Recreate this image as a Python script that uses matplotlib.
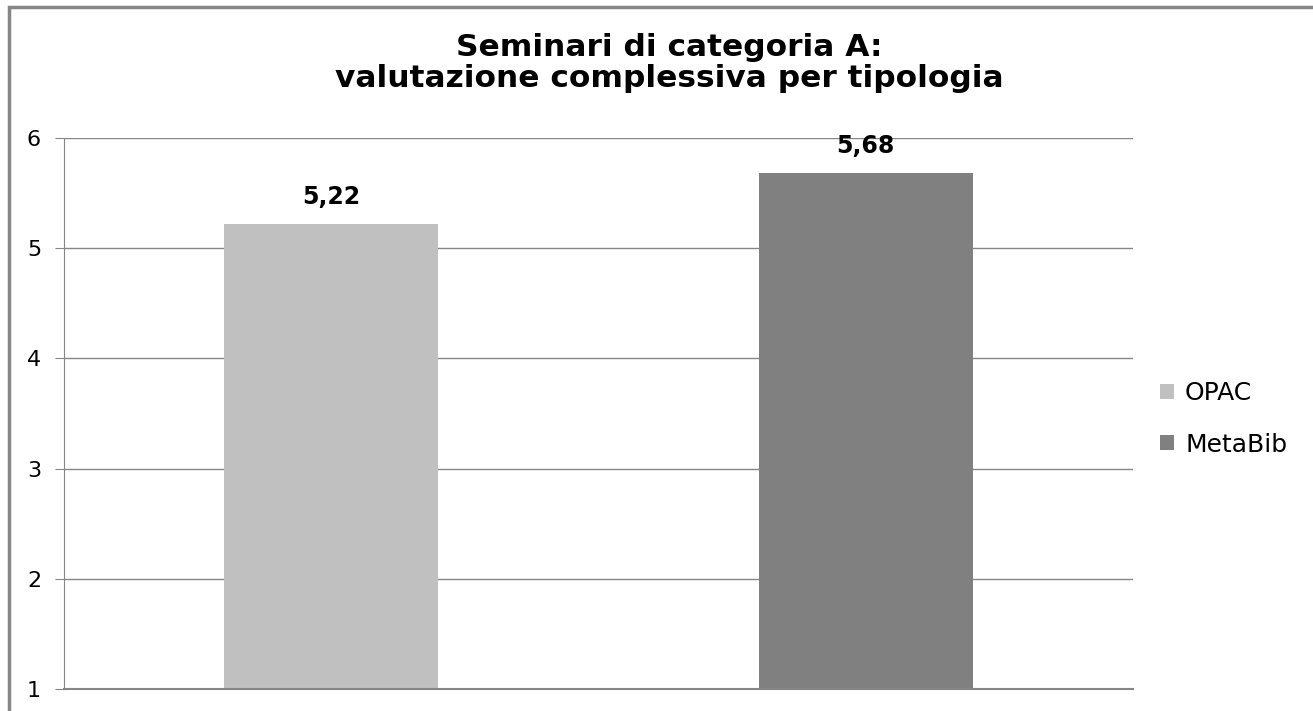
import matplotlib.pyplot as plt
from matplotlib.patches import Rectangle

categories = ["OPAC", "MetaBib"]
values = [5.22, 5.68]
labels = ["5,22", "5,68"]
colors = ["#c0c0c0", "#808080"]
yticks = [1, 2, 3, 4, 5, 6]

W, H = 1313, 711
fig = plt.figure(figsize=(W / 100, H / 100), dpi=100)
fig.patch.set_facecolor("white")

# outer chart border (cropped on right/bottom)
fig.add_artist(Rectangle((9 / W, -0.05), 1.1, (H - 7) / H + 0.05, transform=fig.transFigure,
                         fill=False, edgecolor="#868686", linewidth=2.5))

ax = fig.add_axes([64 / W, 1 - 689 / H, (1133 - 64) / W, (689 - 138) / H])
x = range(len(categories))
bars = ax.bar(x, values, width=0.4, bottom=0, color=colors, zorder=3)
ax.set_xlim(-0.5, 1.5)
ax.set_ylim(1, 6)
ax.set_yticks(yticks)
ax.set_yticklabels([str(t) for t in yticks], fontsize=16)
ax.set_xticks([])
ax.grid(axis="y", color="#868686", linewidth=1, zorder=0)
for s in ["top", "right", "bottom"]:
    ax.spines[s].set_visible(False)
ax.spines["left"].set_color("#868686")
ax.axhline(1, color="#868686", linewidth=1.5, zorder=4, clip_on=False)
ax.tick_params(axis="y", length=6.5, color="#868686", pad=10)

for xi, v, lab in zip(x, values, labels):
    ax.annotate(lab, (xi, v), xytext=(0, 11), textcoords="offset points",
                ha="center", va="bottom", fontsize=17, fontweight="bold")

fig.text(669 / W, 1 - 63 / H, "Seminari di categoria A:\nvalutazione complessiva per tipologia",
         ha="center", va="center", fontsize=22.5, fontweight="bold", linespacing=1.1)

leg = fig.legend(bars, categories, loc="center left", bbox_to_anchor=(1160 / W, 1 - 419 / H),
                 frameon=False, fontsize=18, handlelength=0.55, handleheight=0.55,
                 handletextpad=0.45, labelspacing=1.1, borderpad=0, borderaxespad=0)

fig.savefig("out.png", dpi=100)
